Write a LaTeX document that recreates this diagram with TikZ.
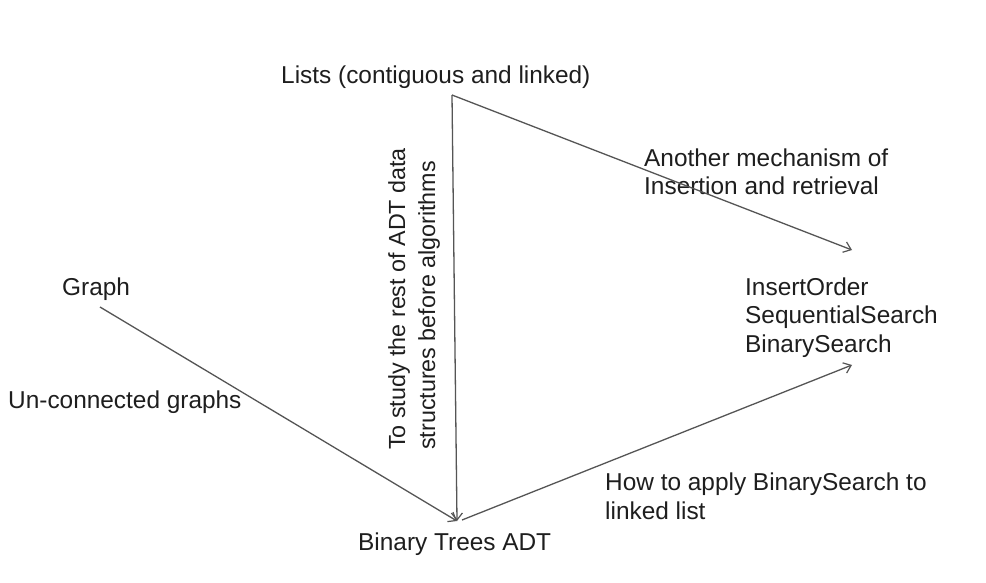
\documentclass[tikz,border=0pt]{standalone}
\usepackage{fontspec}
\setmainfont{Liberation Sans}
\usetikzlibrary{arrows.meta}
\definecolor{txt}{HTML}{1E1E1E}
\definecolor{ln}{HTML}{555555}
\begin{document}
\begin{tikzpicture}[x=1pt,y=-1pt,
  lbl/.style={inner sep=0pt,anchor=base west,align=left,text=txt,font=\fontsize{24.4}{28.5}\selectfont},
  conn/.style={draw=ln,line width=1.3pt,-{Straight Barb[length=7pt,width=11pt,line width=1.2pt]}}]
\useasboundingbox[fill=white] (0,0) rectangle (986,583);
\node[lbl] (lists) at (281,84) {Lists (contiguous and linked)};
\node[lbl] (graph) at (62,295) {Graph};
\node[lbl] (unconn) at (8,408) {Un-connected graphs};
\node[lbl] (another) at (644,195) {Another mechanism of\\Insertion and retrieval};
\node[lbl] (search) at (745,352) {InsertOrder\\SequentialSearch\\BinarySearch};
\node[lbl] (howto) at (605,519) {How to apply BinarySearch to\\linked list};
\node[lbl] (bt) at (358,550) {Binary Trees ADT};
\node[lbl,rotate=90,anchor=north west,font=\fontsize{23.3}{30}\selectfont] (study) at (388,450) {To study the rest of ADT data\\structures before algorithms};
\coordinate (lsrc) at (452,95);
\coordinate (btin) at (457,521);
\coordinate (btout) at (462,520);
\coordinate (sin) at (852,250);
\coordinate (sin2) at (852,365);
\coordinate (gsrc) at (100,307);
\draw[conn] (lsrc) -- (btin);
\draw[conn] (lsrc) -- (sin);
\draw[conn] (gsrc) -- (btin);
\draw[conn] (btout) -- (sin2);
\end{tikzpicture}
\end{document}
